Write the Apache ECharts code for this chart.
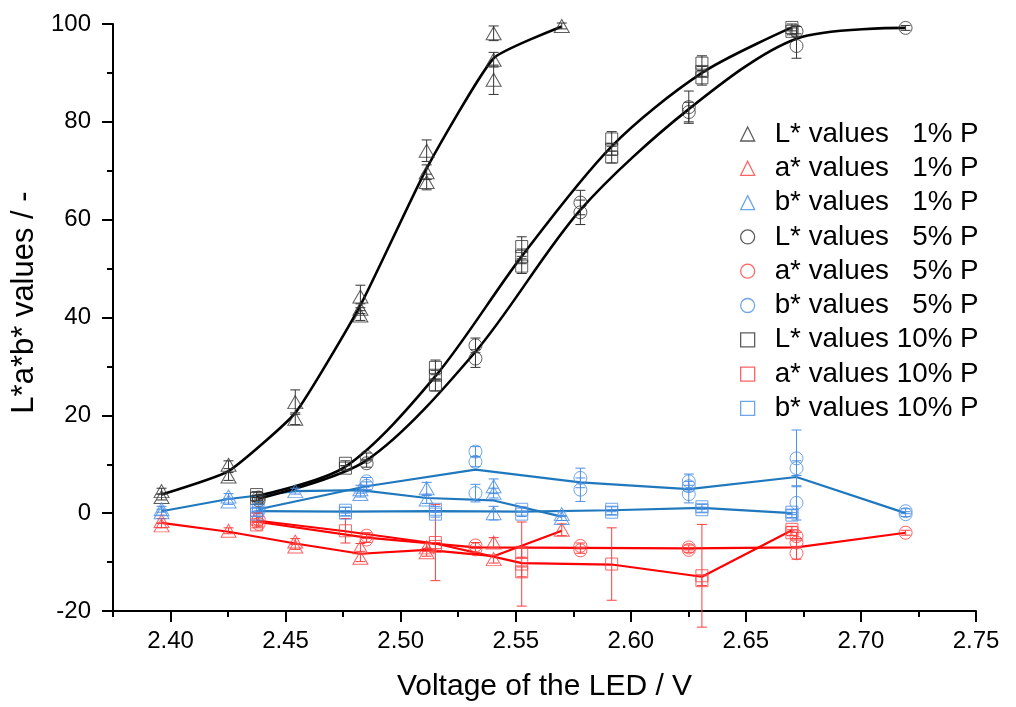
<!DOCTYPE html>
<html>
<head>
<meta charset="utf-8">
<script src="https://cdn.jsdelivr.net/npm/echarts@6/dist/echarts.min.js"></script>
<style>
html,body{margin:0;padding:0;background:#fff;}
#chart{width:1016px;height:707px;}
</style>
</head>
<body>
<div id="chart"></div>
<script>
// ---------- data ----------
const xTickValues = [2.40, 2.45, 2.50, 2.55, 2.60, 2.65, 2.70, 2.75];

// x positions of each measurement group (V)
const x1 = [2.3961, 2.4252, 2.4542, 2.4825, 2.5113, 2.5404, 2.5700];
const x5 = [2.4383, 2.4852, 2.5325, 2.5781, 2.6252, 2.6720, 2.7194];
const x10 = [2.4374, 2.4760, 2.5151, 2.5526, 2.5917, 2.6309, 2.6700];

// mean values (connecting lines)
const L1_mean = [3.8, 8.6, 20.5, 42.5, 70.5, 93.0, 99.5];
const a1_mean = [-2.0, -3.8, -6.2, -8.3, -7.5, -8.8, -3.6];
const b1_mean = [0.4, 2.9, 4.5, 4.7, 3.1, 2.6, -0.7];
const L5_mean = [3.0, 10.8, 33.0, 62.0, 82.6, 97.0, 99.2];
const a5_mean = [-1.8, -5.0, -7.0, -7.1, -7.2, -7.0, -4.0];
const b5_mean = [0.8, 5.5, 8.9, 6.3, 4.9, 7.4, 0.0];
const L10_mean = [3.5, 9.5, 28.0, 52.5, 75.0, 90.0, 99.3];
const a10_mean = [-1.5, -3.7, -6.2, -10.2, -10.5, -13.0, -3.5];
const b10_mean = [0.4, 0.3, 0.4, 0.3, 0.6, 1.1, 0.0];

// replicate measurements: [voltage, value, error]
const L1_rep = [
  [2.3961, 4.5, 0.6], [2.3961, 3.3, 0.6],
  [2.4252, 9.9, 0.8], [2.4252, 7.5, 0.8],
  [2.4542, 22.7, 2.5], [2.4542, 19.3, 1.2],
  [2.4825, 44.3, 2.3], [2.4825, 41.8, 1.0], [2.4825, 40.4, 1.0],
  [2.5113, 74.1, 2.2], [2.5113, 69.7, 1.5], [2.5113, 67.7, 1.6],
  [2.5404, 98.1, 1.5], [2.5404, 92.7, 1.5], [2.5404, 88.6, 3.0],
  [2.5700, 99.6, 0.6]
];
const a1_rep = [
  [2.3961, -1.6, 0.5], [2.3961, -2.5, 0.5],
  [2.4252, -3.6, 0.6],
  [2.4542, -5.8, 0.6], [2.4542, -6.8, 0.6],
  [2.4825, -7.0, 0.8], [2.4825, -9.1, 0.8],
  [2.5113, -7.0, 0.8], [2.5113, -8.0, 0.8],
  [2.5404, -6.0, 1.0], [2.5404, -9.4, 0.8],
  [2.5700, -3.4, 1.2]
];
const b1_rep = [
  [2.3961, 0.8, 0.6], [2.3961, 0.2, 0.6],
  [2.4252, 3.4, 0.6], [2.4252, 2.4, 0.6],
  [2.4542, 4.5, 0.6],
  [2.4825, 4.9, 0.8], [2.4825, 3.9, 0.6],
  [2.5113, 5.1, 1.2], [2.5113, 2.8, 0.8],
  [2.5404, 5.5, 1.5], [2.5404, 4.1, 1.0], [2.5404, 0.0, 1.4],
  [2.5700, -0.2, 0.5], [2.5700, -1.0, 0.5]
];
const L5_rep = [
  [2.4383, 3.2, 0.5], [2.4383, 2.6, 0.5],
  [2.4852, 11.5, 0.8], [2.4852, 10.2, 0.8],
  [2.5325, 34.3, 1.5], [2.5325, 31.6, 1.8],
  [2.5781, 63.5, 2.5], [2.5781, 61.5, 2.5],
  [2.6252, 83.0, 3.3], [2.6252, 82.0, 2.0],
  [2.6720, 98.5, 1.0], [2.6720, 95.5, 2.5],
  [2.7194, 99.2, 0.5]
];
const a5_rep = [
  [2.4383, -1.3, 0.6], [2.4383, -2.2, 0.6],
  [2.4852, -4.6, 0.6], [2.4852, -5.4, 0.6],
  [2.5325, -6.6, 0.6], [2.5325, -7.4, 0.6],
  [2.5781, -6.7, 0.6], [2.5781, -7.6, 0.6],
  [2.6252, -7.0, 0.5], [2.6252, -7.5, 0.5],
  [2.6720, -4.7, 0.8], [2.6720, -6.0, 0.8], [2.6720, -8.2, 1.2],
  [2.7194, -4.0, 0.5]
];
const b5_rep = [
  [2.4383, 1.1, 0.6], [2.4383, 0.5, 0.6],
  [2.4852, 6.5, 0.8], [2.4852, 5.6, 0.8],
  [2.5325, 12.6, 1.0], [2.5325, 10.5, 1.0], [2.5325, 4.1, 1.8],
  [2.5781, 7.2, 2.0], [2.5781, 4.8, 2.4],
  [2.6252, 6.5, 1.5], [2.6252, 5.5, 1.0], [2.6252, 3.9, 1.8],
  [2.6720, 11.2, 5.8], [2.6720, 9.2, 1.5], [2.6720, 2.1, 3.5],
  [2.7194, 0.4, 0.5], [2.7194, -0.2, 0.5]
];
const L10_rep = [
  [2.4374, 3.8, 0.6], [2.4374, 3.0, 0.6],
  [2.4760, 10.2, 0.5], [2.4760, 9.2, 0.5],
  [2.5151, 29.8, 1.5], [2.5151, 28.2, 1.0], [2.5151, 26.2, 1.2],
  [2.5526, 54.5, 2.0], [2.5526, 52.5, 1.5], [2.5526, 50.5, 1.5],
  [2.5917, 76.5, 1.5], [2.5917, 74.4, 1.2], [2.5917, 72.8, 1.2],
  [2.6309, 92.0, 1.5], [2.6309, 90.3, 1.0], [2.6309, 89.0, 1.5],
  [2.6700, 99.3, 0.7], [2.6700, 98.5, 0.7]
];
const a10_rep = [
  [2.4374, -1.2, 0.6], [2.4374, -2.4, 0.6],
  [2.4760, -3.6, 2.5],
  [2.5151, -6.0, 7.8], [2.5151, -6.8, 0.8],
  [2.5526, -8.0, 1.0], [2.5526, -10.4, 8.6], [2.5526, -12.0, 1.0],
  [2.5917, -10.4, 7.4],
  [2.6309, -12.8, 10.5], [2.6309, -13.8, 1.0],
  [2.6700, -3.3, 0.6], [2.6700, -4.0, 0.6]
];
const b10_rep = [
  [2.4374, 0.6, 0.5], [2.4374, -0.2, 0.5],
  [2.4760, 0.6, 0.6], [2.4760, 0.0, 0.5],
  [2.5151, 0.8, 0.6], [2.5151, -0.2, 0.6],
  [2.5526, 0.8, 0.5], [2.5526, -0.2, 0.5],
  [2.5917, 0.8, 0.5], [2.5917, 0.2, 0.5],
  [2.6309, 1.3, 0.5], [2.6309, 0.7, 0.5],
  [2.6700, 0.2, 0.5], [2.6700, -0.4, 0.5]
];

const legendNames = [
  'L* values   1% P', 'a* values   1% P', 'b* values   1% P',
  'L* values   5% P', 'a* values   5% P', 'b* values   5% P',
  'L* values 10% P', 'a* values 10% P', 'b* values 10% P'
];

// ---------- styling ----------
const FONT = '"Liberation Sans", Arial, Helvetica, sans-serif';
const C = {
  Lmk: '#333333', Lln: '#000000',
  amk: '#ff3c3c', aln: '#ff0000',
  bmk: '#4a8fe3', bln: '#1f78bd'
};
const SYM = {
  tri: {symbol: 'triangle', size: [15, 13]},
  cir: {symbol: 'circle', size: 13},
  sq: {symbol: 'rect', size: 12}
};

const groups = [
  {name: legendNames[0], x: x1, mean: L1_mean, rep: L1_rep, s: SYM.tri, mk: C.Lmk, ln: C.Lln, lw: 2.6, smooth: 0.15},
  {name: legendNames[1], x: x1, mean: a1_mean, rep: a1_rep, s: SYM.tri, mk: C.amk, ln: C.aln, lw: 2.2, smooth: false},
  {name: legendNames[2], x: x1, mean: b1_mean, rep: b1_rep, s: SYM.tri, mk: C.bmk, ln: C.bln, lw: 2.2, smooth: false},
  {name: legendNames[3], x: x5, mean: L5_mean, rep: L5_rep, s: SYM.cir, mk: C.Lmk, ln: C.Lln, lw: 2.6, smooth: 0.3},
  {name: legendNames[4], x: x5, mean: a5_mean, rep: a5_rep, s: SYM.cir, mk: C.amk, ln: C.aln, lw: 2.2, smooth: false},
  {name: legendNames[5], x: x5, mean: b5_mean, rep: b5_rep, s: SYM.cir, mk: C.bmk, ln: C.bln, lw: 2.2, smooth: false},
  {name: legendNames[6], x: x10, mean: L10_mean, rep: L10_rep, s: SYM.sq, mk: C.Lmk, ln: C.Lln, lw: 2.6, smooth: 0.3},
  {name: legendNames[7], x: x10, mean: a10_mean, rep: a10_rep, s: SYM.sq, mk: C.amk, ln: C.aln, lw: 2.2, smooth: false},
  {name: legendNames[8], x: x10, mean: b10_mean, rep: b10_rep, s: SYM.sq, mk: C.bmk, ln: C.bln, lw: 2.2, smooth: false}
];

function errRender(color) {
  return function (params, api) {
    const x = api.value(0), y = api.value(1), e = api.value(2);
    const t = api.coord([x, y + e]);
    const b = api.coord([x, y - e]);
    const hw = 5;
    const st = {stroke: color, lineWidth: 1};
    return {
      type: 'group',
      children: [
        {type: 'line', shape: {x1: t[0], y1: t[1], x2: b[0], y2: b[1]}, style: st},
        {type: 'line', shape: {x1: t[0] - hw, y1: t[1], x2: t[0] + hw, y2: t[1]}, style: st},
        {type: 'line', shape: {x1: b[0] - hw, y1: b[1], x2: b[0] + hw, y2: b[1]}, style: st}
      ]
    };
  };
}

const series = [];
groups.forEach(function (g, i) {
  series.push({
    name: 'line' + i,
    type: 'line',
    data: g.x.map(function (v, k) { return [v, g.mean[k]]; }),
    showSymbol: false,
    symbol: 'none',
    smooth: g.smooth,
    lineStyle: {color: g.ln, width: g.lw},
    z: 2,
    silent: true
  });
  series.push({
    name: 'err' + i,
    type: 'custom',
    renderItem: errRender(g.mk),
    data: g.rep,
    encode: {x: 0, y: 1},
    z: 3,
    silent: true
  });
  series.push({
    name: g.name,
    type: 'scatter',
    data: g.rep.map(function (r) { return [r[0], r[1]]; }),
    symbol: g.s.symbol,
    symbolSize: g.s.size,
    itemStyle: {color: 'transparent', borderColor: g.mk, borderWidth: 1},
    z: 4,
    silent: true
  });
});

const chart = echarts.init(document.getElementById('chart'), null, {renderer: 'canvas'});
chart.setOption({
  animation: false,
  backgroundColor: '#ffffff',
  textStyle: {fontFamily: FONT, color: '#000'},
  grid: {left: 113, right: 40, top: 24, bottom: 91, containLabel: false},
  legend: {
    data: legendNames,
    orient: 'vertical',
    left: 735,
    top: 115,
    itemWidth: 14,
    itemHeight: 14,
    itemGap: 6.3,
    selectedMode: false,
    itemStyle: {borderWidth: 1.3},
    textStyle: {fontFamily: FONT, fontSize: 27.8, lineHeight: 27, color: '#000', padding: [0, 0, 0, 15]}
  },
  xAxis: [
    {
      type: 'value',
      position: 'bottom',
      min: 2.375,
      max: 2.75,
      name: 'Voltage of the LED / V',
      nameLocation: 'middle',
      nameGap: 61,
      nameTextStyle: {fontFamily: FONT, fontSize: 30, color: '#000'},
      axisLine: {show: true, onZero: false, lineStyle: {color: '#000', width: 2}},
      axisTick: {show: true, inside: false, length: 11, lineStyle: {color: '#000', width: 2}, customValues: xTickValues},
      axisLabel: {
        show: true, margin: 18, fontFamily: FONT, fontSize: 24, color: '#000',
        customValues: xTickValues,
        formatter: function (v) { return v.toFixed(2); }
      },
      splitLine: {show: false}
    },
    {
      type: 'value',
      position: 'bottom',
      min: 2.375,
      max: 2.75,
      interval: 0.025,
      axisLine: {show: false, onZero: false},
      axisTick: {show: true, inside: false, length: 6, lineStyle: {color: '#000', width: 2}},
      axisLabel: {show: false},
      splitLine: {show: false}
    }
  ],
  yAxis: {
    type: 'value',
    min: -20,
    max: 100,
    interval: 20,
    name: 'L*a*b* values / -',
    nameLocation: 'middle',
    nameGap: 69,
    nameTextStyle: {fontFamily: FONT, fontSize: 31, color: '#000', padding: [0, 0, 0, 30]},
    axisLine: {show: true, onZero: false, lineStyle: {color: '#000', width: 2}},
    axisTick: {show: true, inside: false, length: 11, lineStyle: {color: '#000', width: 2}},
    minorTick: {show: true, splitNumber: 2, length: 6, lineStyle: {color: '#000', width: 2}},
    axisLabel: {margin: 22, fontFamily: FONT, fontSize: 24, color: '#000'},
    splitLine: {show: false},
    minorSplitLine: {show: false}
  },
  series: series
});
</script>
</body>
</html>
